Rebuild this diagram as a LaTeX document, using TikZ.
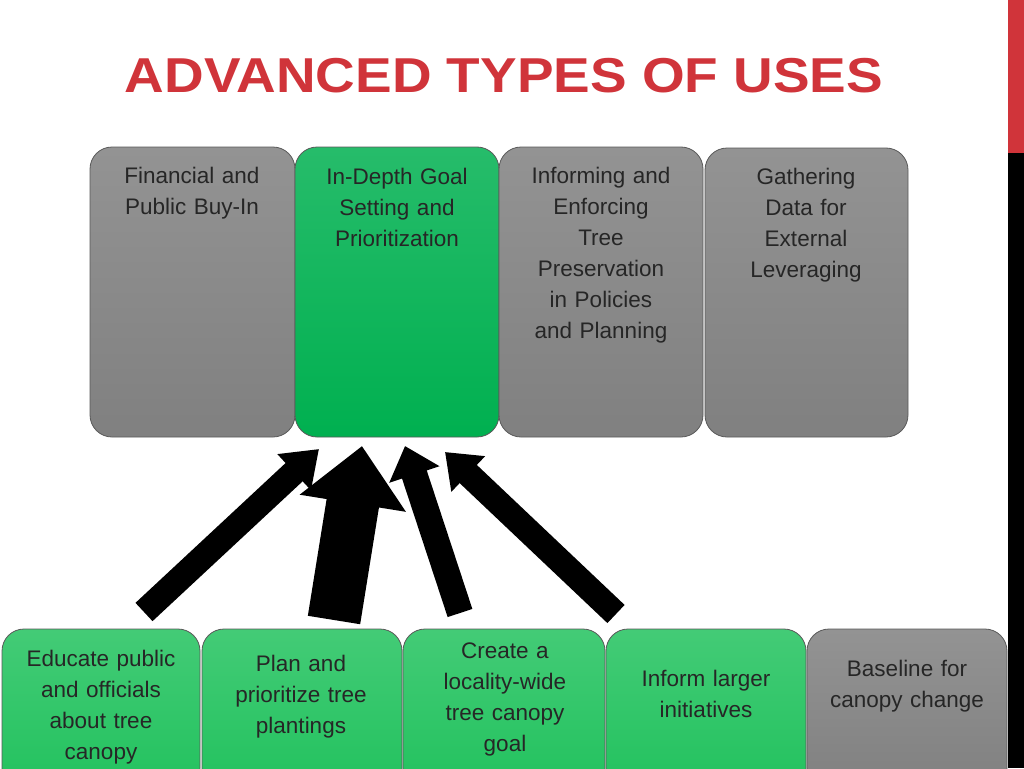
\documentclass[tikz,border=0pt]{standalone}
\usepackage{fontspec}
\setmainfont{Liberation Sans}
\usetikzlibrary{arrows.meta}
\definecolor{titred}{HTML}{D0343A}
\definecolor{gbox}{HTML}{808080}
\definecolor{grn}{HTML}{00B050}
\definecolor{grn2}{HTML}{22C25E}
\tikzset{
 x=1pt,y=-1pt,
 box/.style={draw=gray!70!black,line width=0.8pt,rounded corners=22pt,top color=#1!85!white,bottom color=#1},
 lbl/.style={align=center,font=\fontsize{22.5}{31}\selectfont,text=black!85,text width=200pt}
}
\begin{document}
\begin{tikzpicture}
\useasboundingbox (0,0) rectangle (1024,768);
\fill[white] (0,0) rectangle (1024,768);
\fill[titred] (1008,0) rectangle (1024,153);
\fill[black] (1008,153) rectangle (1024,768);
\node[font=\fontsize{49}{54}\bfseries\selectfont,text=titred,xscale=1.12] (title) at (504,76) {ADVANCED TYPES OF USES};
% top boxes
\draw[box=gbox] (90,147) rectangle (295,437);
\draw[box=grn] (295,147) rectangle (499,437);
\draw[box=gbox] (499,147) rectangle (703,437);
\draw[box=gbox] (705,148) rectangle (908,437);
\node[lbl,anchor=north] (t1) at (192,164) {Financial and\\Public Buy-In};
\node[lbl,anchor=north] (t2) at (397,165) {In-Depth Goal\\Setting and\\Prioritization};
\node[lbl,anchor=north] (t3) at (601,164) {Informing and\\Enforcing\\Tree\\Preservation\\in Policies\\and Planning};
\node[lbl,anchor=north] (t4) at (806,165) {Gathering\\Data for\\External\\Leveraging};
% bottom boxes
\draw[box=grn2] (2,629) rectangle (200,790);
\draw[box=grn2] (202,629) rectangle (402,790);
\draw[box=grn2] (403,629) rectangle (605,790);
\draw[box=grn2] (606,629) rectangle (806,790);
\draw[box=gbox] (807,629) rectangle (1007,790);
\node[lbl] (b1) at (101,707) {Educate public\\and officials\\about tree\\canopy};
\node[lbl] (b2) at (301,697) {Plan and\\prioritize tree\\plantings};
\node[lbl] (b3) at (505,699) {Create a\\locality-wide\\tree canopy\\goal};
\node[lbl] (b4) at (706,694) {Inform larger\\initiatives};
\node[lbl] (b5) at (907,686) {Baseline for\\canopy change};
% arrows
\coordinate (a1s) at (144,612); \coordinate (a1e) at (319,449);
\coordinate (a2s) at (334,620); \coordinate (a2e) at (362,446);
\coordinate (a3s) at (460,613); \coordinate (a3e) at (405,446);
\coordinate (a4s) at (616,614); \coordinate (a4e) at (445,452);
\draw[line width=25pt,-{Triangle[length=34pt,width=47pt]}] (a1s) -- (a1e);
\draw[line width=53pt,-{Triangle[length=58pt,width=104pt]}] (a2s) -- (a2e);
\draw[line width=26pt,-{Triangle[length=30pt,width=51pt]}] (a3s) -- (a3e);
\draw[line width=25pt,-{Triangle[length=32pt,width=47pt]}] (a4s) -- (a4e);
\end{tikzpicture}
\end{document}
